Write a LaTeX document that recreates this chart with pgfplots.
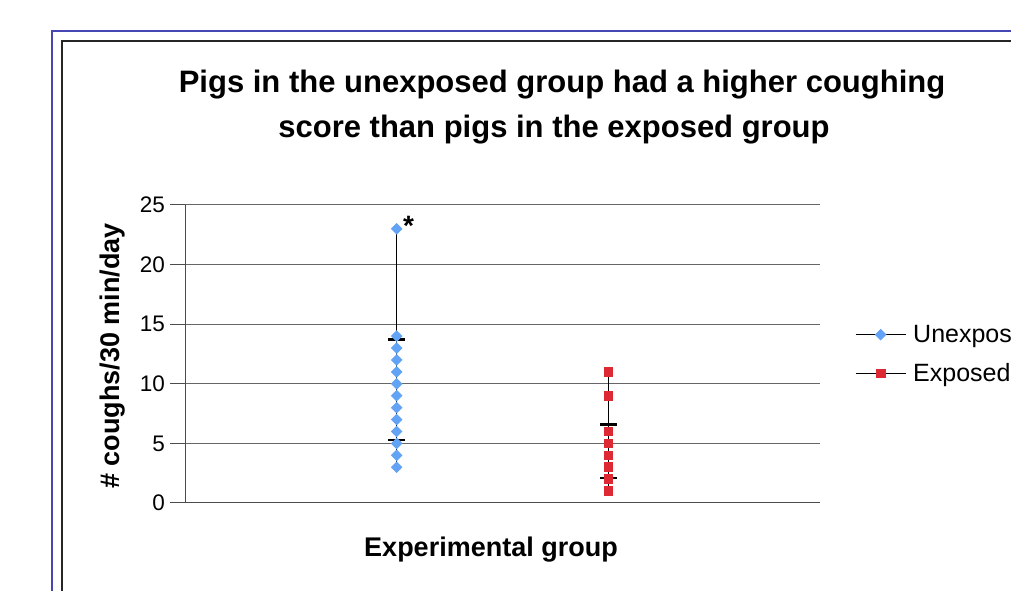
\documentclass[border=0pt]{standalone}
\usepackage{fontspec}
\setmainfont{Liberation Sans}
\usepackage{pgfplots}
\pgfplotsset{compat=1.18}
\definecolor{ublue}{RGB}{99,163,245}
\definecolor{ered}{RGB}{221,41,51}
\definecolor{frameblue}{RGB}{70,70,180}
\begin{document}
\begin{tikzpicture}[x=1pt,y=1pt]
\useasboundingbox (0,0) rectangle (1011,591);
\draw[frameblue, line width=1.5pt] (52,-20) -- (52,560) -- (1040,560);
\draw[black!85, line width=1.5pt] (62,-20) -- (62,550) -- (1040,550);
\begin{axis}[at={(185pt,88pt)}, anchor=south west, scale only axis,
  width=635pt, height=298pt,
  xmin=0, xmax=3, ymin=0, ymax=25, ytick={0,5,...,25}, xtick=\empty,
  axis x line*=bottom, axis y line*=left,
  axis line style={black!70, line width=1pt},
  ymajorgrids, grid style={black!60, line width=1pt},
  tick style={black!70, line width=1pt}, major tick length=15pt, tick align=outside,
  yticklabel style={font=\fontsize{22.5}{27}\selectfont, inner sep=0pt, xshift=-5pt},
  /pgf/number format/assume math mode=true,
  clip=false,
  legend style={draw=none, fill=none, at={(1,0.5)}, anchor=west, xshift=35pt,
    inner sep=0pt, row sep=19pt, column sep=7pt,
    font=\fontsize{25}{28}\selectfont, nodes={inner sep=0pt}},
  legend cell align=left,
  legend image code/.code={\draw[mark repeat=2,mark phase=2,#1] plot coordinates {(0pt,0pt)(25pt,0pt)(50pt,0pt)};},
]
\addplot[black, line width=1pt, mark=square*, mark size=3.6pt,
  mark options={fill=ublue, draw=ublue, rotate=45, solid}]
  coordinates {(1,3)(1,4)(1,5)(1,6)(1,7)(1,8)(1,9)(1,10)(1,11)(1,12)(1,13)(1,14)(1,23)};
\addlegendentry{Unexposed}
\addplot[black, line width=1pt, mark=square*, mark size=4.3pt,
  mark options={fill=ered, draw=ered, solid}]
  coordinates {(2,1)(2,2)(2,3)(2,4)(2,5)(2,6)(2,9)(2,11)};
\addlegendentry{Exposed}
\addplot[forget plot, draw=none, mark=none,
  error bars/.cd, y dir=both, y explicit, error mark=-,
  error bar style={draw=black, line width=1pt, solid},
  error mark options={draw=black, line width=2.5pt, mark size=8.5pt, rotate=90}]
  table[x=x, y=y, y error=e] {
x y e
1 9.5 4.2
2 4.35 2.25
};
\node[font=\bfseries\fontsize{28}{30}\selectfont, anchor=base, inner sep=0pt,
  xshift=12pt, yshift=-7pt] at (axis cs:1,23) {*};
\end{axis}
\node[font=\bfseries\fontsize{31}{36}\selectfont, anchor=base] at (562,498)
  {Pigs in the unexposed group had a higher coughing};
\node[font=\bfseries\fontsize{31}{36}\selectfont, anchor=base] at (554,453)
  {score than pigs in the exposed group};
\node[font=\bfseries\fontsize{27}{30}\selectfont, anchor=base] at (491,34)
  {Experimental group};
\node[font=\bfseries\fontsize{27}{30}\selectfont, rotate=90, anchor=center] at (113,235)
  {\# coughs/30 min/day};
\end{tikzpicture}
\end{document}
